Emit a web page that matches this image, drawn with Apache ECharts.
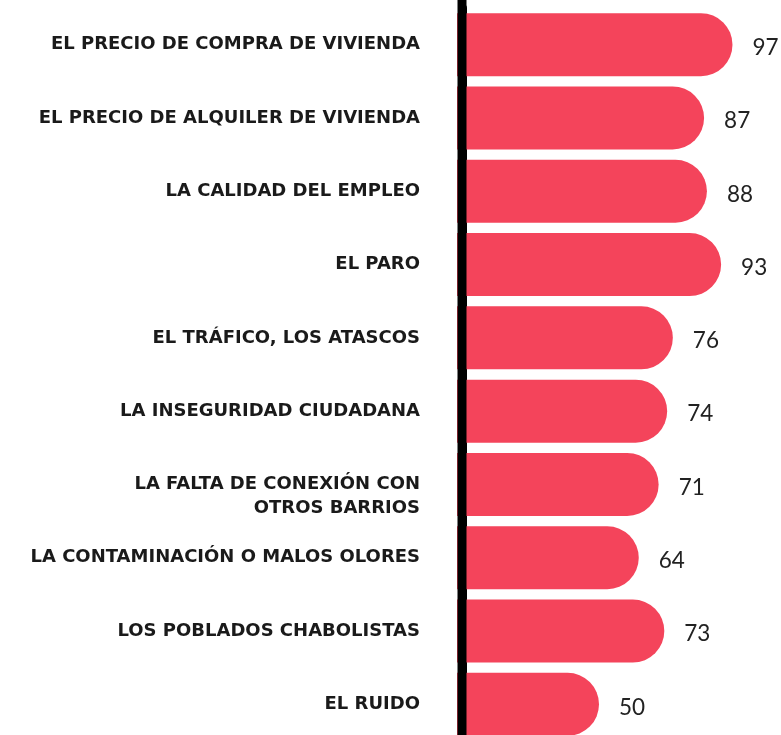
<!DOCTYPE html>
<html>
<head>
<meta charset="utf-8">
<script src="https://cdn.jsdelivr.net/npm/echarts@6/dist/echarts.min.js"></script>
<style>
    html, body { margin: 0; padding: 0; background: #fff; overflow: hidden; }
    /* la ultima barra queda cortada por abajo, como en el original */
    #chart1 { width: 781px; height: 741px; }
</style>
</head>
<body>
<div id="chart1"></div>
<script>
// categorias, de arriba abajo
var categorias = [
    'EL PRECIO DE COMPRA DE VIVIENDA',
    'EL PRECIO DE ALQUILER DE VIVIENDA',
    'LA CALIDAD DEL EMPLEO',
    'EL PARO',
    'EL TRÁFICO, LOS ATASCOS',
    'LA INSEGURIDAD CIUDADANA',
    'LA FALTA DE CONEXIÓN CON\nOTROS BARRIOS',
    'LA CONTAMINACIÓN O MALOS OLORES',
    'LOS POBLADOS CHABOLISTAS',
    'EL RUIDO'
];
var valores = [97, 87, 88, 93, 76, 74, 71, 64, 73, 50];

var chart1 = echarts.init(document.getElementById('chart1'));

var option = {
    animation: false,
    grid: {
        left: 457,
        right: 40,
        top: 8,
        bottom: 0,
        containLabel: false
    },
    xAxis: {
        type: 'value',
        min: 0,
        max: 100,
        show: false
    },
    yAxis: {
        type: 'category',
        inverse: true,
        data: categorias,
        offset: -5,
        axisTick: { show: false },
        axisLine: {
            show: true,
            lineStyle: { color: '#000', width: 9 }
        },
        axisLabel: {
            margin: 42,
            color: '#1a1a1a',
            fontFamily: 'DejaVu Sans',
            fontWeight: 'bold',
            fontSize: 18,
            lineHeight: 24,
            align: 'right',
            formatter: function (v) {
                // dos lineas: la primera a la altura de la barra
                return v.indexOf('\n') >= 0 ? '\n' + v : v;
            }
        }
    },
    series: [{
        type: 'bar',
        data: valores,
        barWidth: 63,
        z: 1,
        itemStyle: {
            color: '#f4445b',
            borderRadius: [0, 32, 32, 0]
        },
        label: {
            show: true,
            position: 'right',
            distance: 20,
            offset: [0, 3],
            color: '#222',
            fontFamily: 'Lato',
            fontSize: 22.5
        }
    }]
};
chart1.setOption(option);

// la linea negra llega de arriba abajo
var x0 = chart1.convertToPixel({ xAxisIndex: 0 }, 0) + 5;
chart1.setOption({
    graphic: [{
        type: 'line',
        shape: { x1: x0, y1: 0, x2: x0, y2: chart1.getHeight() },
        style: { stroke: '#000', lineWidth: 9 },
        z: 100
    }]
});
</script>
</body>
</html>
